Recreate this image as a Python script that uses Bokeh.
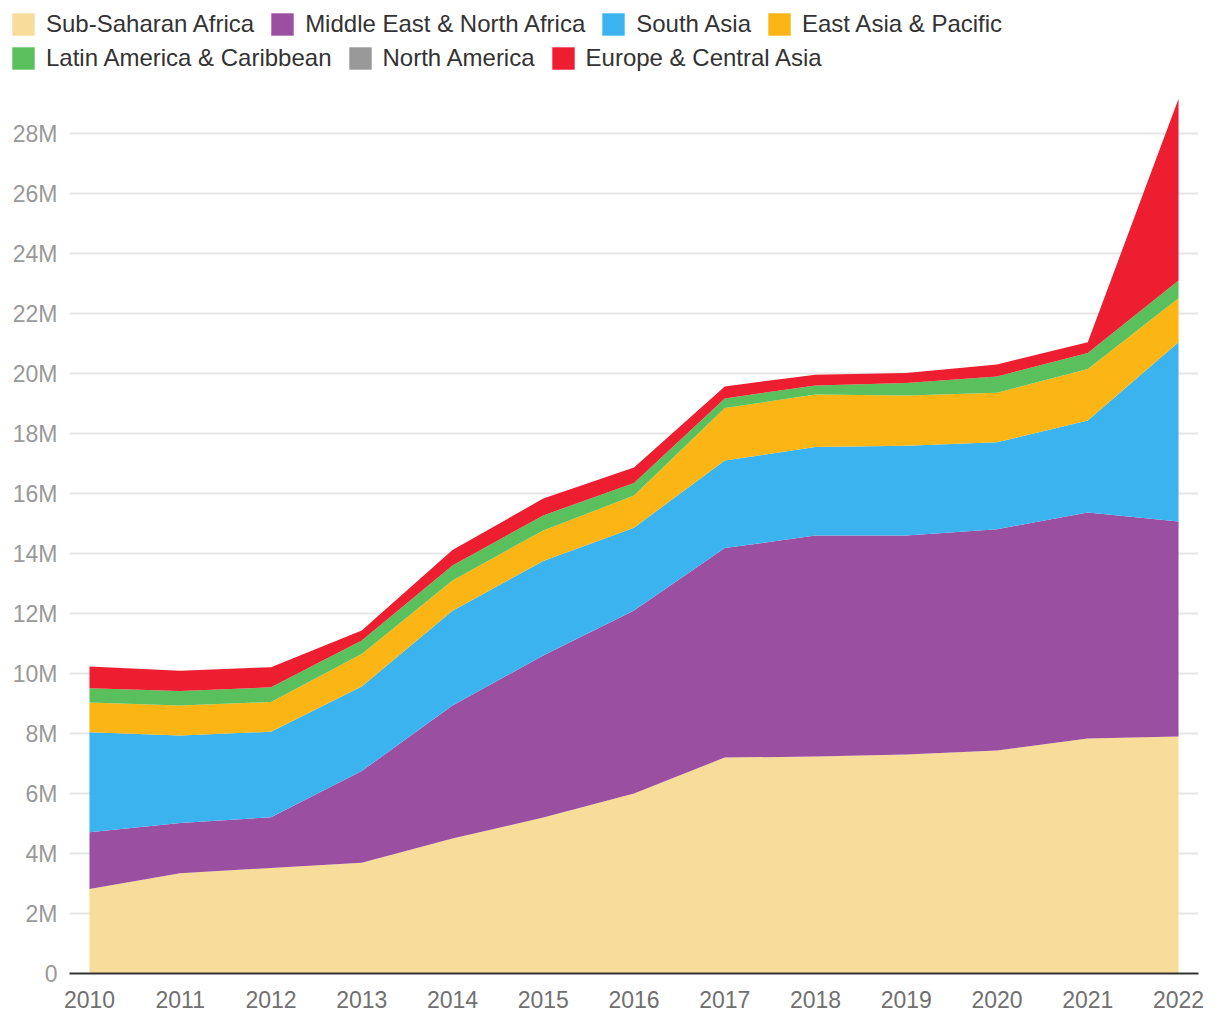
from bokeh.plotting import figure
from bokeh.layouts import column
from bokeh.models import ColumnDataSource, FixedTicker, Legend, LegendItem, Range1d
from bokeh.embed import file_html
from bokeh.resources import INLINE

# ---- data (values in millions) ----
years = [2010, 2011, 2012, 2013, 2014, 2015, 2016, 2017, 2018, 2019, 2020, 2021, 2022]

sub_saharan_africa = [2.82, 3.34, 3.52, 3.69, 4.50, 5.20, 6.00, 7.20, 7.23, 7.30, 7.43, 7.83, 7.90]
middle_east_north_africa = [1.89, 1.68, 1.69, 3.06, 4.43, 5.40, 6.10, 6.98, 7.37, 7.30, 7.38, 7.54, 7.17]
south_asia = [3.33, 2.91, 2.85, 2.82, 3.16, 3.15, 2.76, 2.92, 2.95, 2.99, 2.90, 3.06, 5.97]
east_asia_pacific = [0.99, 1.00, 0.99, 1.08, 1.01, 1.02, 1.07, 1.75, 1.75, 1.68, 1.65, 1.72, 1.47]
latin_america_caribbean = [0.48, 0.49, 0.49, 0.45, 0.50, 0.50, 0.42, 0.32, 0.30, 0.41, 0.54, 0.53, 0.59]
north_america = [0, 0, 0, 0, 0, 0, 0, 0, 0, 0, 0, 0, 0]
europe_central_asia = [0.72, 0.67, 0.67, 0.33, 0.52, 0.56, 0.52, 0.40, 0.36, 0.34, 0.40, 0.36, 6.06]

series_names = ["Sub-Saharan Africa", "Middle East & North Africa", "South Asia",
                "East Asia & Pacific", "Latin America & Caribbean", "North America",
                "Europe & Central Asia"]
series_keys = ["ssa", "mena", "sa", "eap", "lac", "na", "eca"]
series_colors = ["#F7DC9A", "#9B4FA1", "#3BB3EF", "#FBB615", "#5AC05E", "#999999", "#EC1E2F"]

y_ticks = [0, 2, 4, 6, 8, 10, 12, 14, 16, 18, 20, 22, 24, 26, 28]
y_tick_labels = ["0", "2M", "4M", "6M", "8M", "10M", "12M", "14M", "16M", "18M",
                 "20M", "22M", "24M", "26M", "28M"]

source = ColumnDataSource(dict(
    year=years,
    ssa=sub_saharan_africa,
    mena=middle_east_north_africa,
    sa=south_asia,
    eap=east_asia_pacific,
    lac=latin_america_caribbean,
    na=north_america,
    eca=europe_central_asia,
))

FONT = "Liberation Sans"
W = 1212

# ---- main chart ----
p = figure(width=W, height=931, output_backend="svg", toolbar_location=None,
           x_range=Range1d(2009.78, 2022.22), y_range=Range1d(0, 29.5),
           min_border_left=69, min_border_right=14, min_border_top=0, min_border_bottom=46)
p.outline_line_color = None
p.background_fill_color = "white"
p.frame_align = False

renderers = p.varea_stack(stackers=series_keys, x="year", color=series_colors, source=source)

p.xaxis.ticker = FixedTicker(ticks=years)
p.xaxis.axis_line_color = "#333333"
p.xaxis.axis_line_width = 2
p.xaxis.major_tick_line_color = None
p.xaxis.minor_tick_line_color = None
p.xaxis.major_tick_out = 0
p.xaxis.major_label_standoff = 17
p.xaxis.major_label_text_font = FONT
p.xaxis.major_label_text_font_size = "23px"
p.xaxis.major_label_text_color = "#707070"

p.yaxis.ticker = FixedTicker(ticks=y_ticks)
p.yaxis.major_label_overrides = {t: l for t, l in zip(y_ticks, y_tick_labels)}
p.yaxis.axis_line_color = None
p.yaxis.major_tick_line_color = None
p.yaxis.minor_tick_line_color = None
p.yaxis.major_tick_out = 0
p.yaxis.major_label_standoff = 12
p.yaxis.major_label_text_font = FONT
p.yaxis.major_label_text_font_size = "23px"
p.yaxis.major_label_text_color = "#999999"

p.xgrid.grid_line_color = None
p.ygrid.grid_line_color = "#e6e6e6"
p.ygrid.grid_line_width = 2
p.ygrid.level = "underlay"

# ---- legend strip (separate figure above the chart) ----
lf = figure(width=W, height=88, output_backend="svg", toolbar_location=None,
            x_range=Range1d(0, 1), y_range=Range1d(0, 1),
            x_axis_location=None, y_axis_location=None,
            min_border_left=0, min_border_right=0, min_border_top=0, min_border_bottom=0)
lf.outline_line_color = None
lf.grid.visible = False
lf.frame_align = False
# legend swatches come from renderers of the same data (outside this strip's ranges)
legend_renderers = lf.varea_stack(stackers=series_keys, x="year", color=series_colors, source=source)

items = [LegendItem(label=n, renderers=[r]) for n, r in zip(series_names, legend_renderers)]


def make_legend(its, loc):
    return Legend(items=its, orientation="horizontal", location=loc,
                  glyph_width=28, glyph_height=28, label_height=28, label_standoff=9,
                  spacing=14, padding=0, margin=0, border_line_color=None,
                  background_fill_alpha=0, label_text_font=FONT,
                  label_text_font_size="24px", label_text_color="#333333")


lf.add_layout(make_legend(items[:4], (9, 50)))
lf.add_layout(make_legend(items[4:], (9, 16)))

layout = column(lf, p, spacing=0)
open("out.html", "w").write(file_html(layout, INLINE))
